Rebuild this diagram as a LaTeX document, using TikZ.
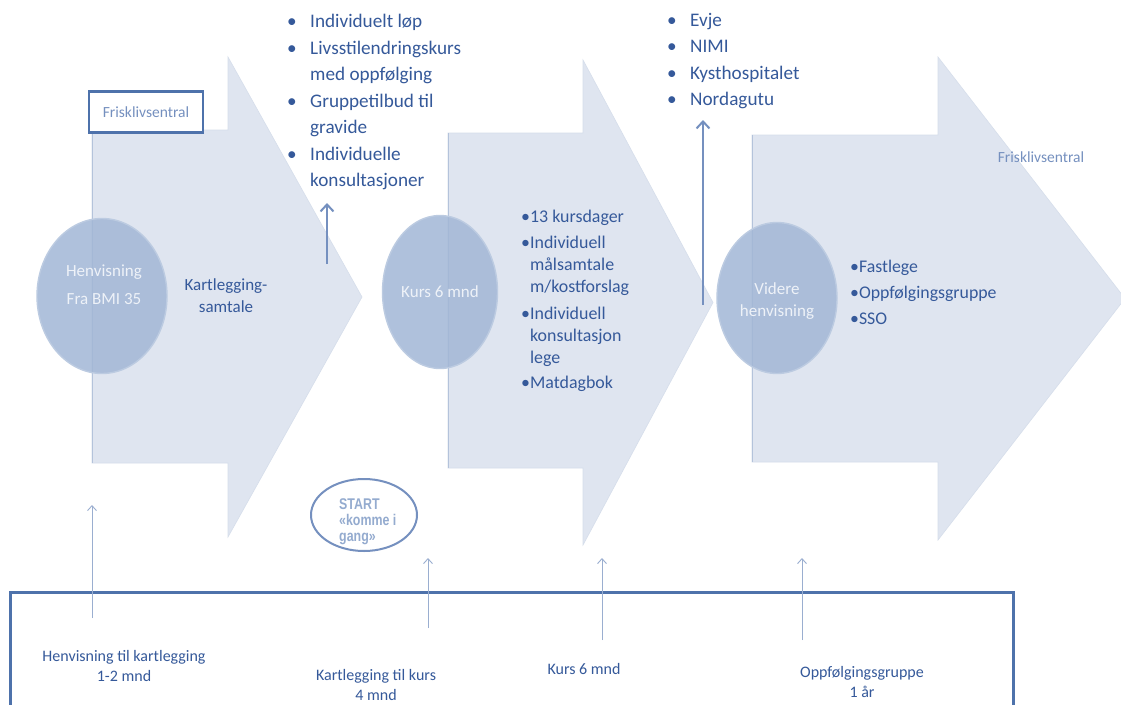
\documentclass[tikz,border=0pt]{standalone}
\usepackage{fontspec}
\setmainfont{Carlito}
\newfontfamily\startfont{Liberation Sans}[FakeStretch=0.8]
\usetikzlibrary{arrows.meta,shapes.geometric}

\definecolor{stagefill}{HTML}{DFE5F0}
\definecolor{stageline}{HTML}{B4C3DB}
\definecolor{ballfill}{HTML}{A2B7D6}
\definecolor{ballrim}{HTML}{BCCBE1}
\definecolor{balltxt}{HTML}{EEF2F8}
\definecolor{textblue}{HTML}{35599A}
\definecolor{paleblue}{HTML}{7590BF}
\definecolor{frameblue}{HTML}{4E72AB}
\definecolor{thinblue}{HTML}{9AAED0}
\definecolor{starttext}{HTML}{94ABCF}

\tikzset{
  stage/.style={fill=stagefill,draw=stageline!55,line width=0.6pt},
  stageedge/.style={draw=stageline,line width=1pt},
  ball/.style={ellipse,fill=ballfill,fill opacity=0.85,draw=ballrim,line width=1.4pt,inner sep=0pt},
  balltext/.style={text=balltxt,font=\fontsize{17}{28}\selectfont,align=center,inner sep=0pt},
  steptext/.style={text=textblue,align=left,anchor=north west,inner sep=0pt},
  uparrow/.style={draw=paleblue,line width=2.4pt,-{Straight Barb[length=7pt,width=13pt,line width=2pt]}},
  timearrow/.style={draw=thinblue,line width=0.9pt,-{Straight Barb[length=5pt,width=9pt,line width=0.9pt]}},
  timelabel/.style={text=textblue,font=\fontsize{16}{20}\selectfont,align=center,inner sep=0pt}
}

\begin{document}
\begin{tikzpicture}[x=1pt,y=-1pt]
\clip (0,0) rectangle (1121,704);
\fill[white] (0,0) rectangle (1121,704);

% #1 left, #2/#3 body top/bottom, #4 head x, #5/#6 head top/bottom, #7 tip x
\newcommand{\stagearrow}[7]{
  \pgfmathsetmacro{\tipy}{(#5+#6)/2}
  \filldraw[stage] (#1,#2) -- (#4,#2) -- (#4,#5) -- (#7,\tipy) -- (#4,#6) -- (#4,#3) -- (#1,#3) -- cycle;
  \draw[stageedge] (#1,#2) -- (#1,#3);
}

% the three stages
\stagearrow{92}{130}{463}{228}{57}{537}{362}
\stagearrow{448}{133}{468}{583}{60}{545}{713}
\stagearrow{752}{135}{462}{938}{57}{540}{1125}

% circles on the stages
\node[ball,minimum width=130pt,minimum height=155pt] (henv) at (102,296) {};
\node[ball,minimum width=115pt,minimum height=153pt] (kurs) at (440,292) {};
\node[ball,minimum width=120pt,minimum height=151pt] (videre) at (777,298) {};
\node[balltext] (henvtxt) at (104,285) {Henvisning\\Fra BMI 35};
\node[balltext] at (kurs) (kurstxt) {Kurs 6 mnd};
\node[balltext,font=\fontsize{17}{22}\selectfont] (videretxt) at (777,301) {Videre\\henvisning};

\node[text=textblue,font=\fontsize{17}{22}\selectfont,align=center,inner sep=0pt] (kartl) at (226,296) {Kartlegging-\\samtale};

% frisklivsentral labels
\node[draw=frameblue,fill=white,line width=2.5pt,minimum width=114pt,minimum height=41pt,
      text=paleblue,font=\fontsize{15.5}{17}\selectfont] (friskbox) at (146,112) {Frisklivsentral};
\node[text=paleblue,font=\fontsize{15.5}{17}\selectfont,inner sep=0pt] (frisk) at (1041,157) {Frisklivsentral};

% lists above the stages
\node[steptext,font=\fontsize{19.2}{26.5}\selectfont] (tilbud) at (287,14) {%
  \makebox[23pt][l]{•}Individuelt løp\\
  \makebox[23pt][l]{•}Livsstilendringskurs\\
  \hspace*{23pt}med oppfølging\\
  \makebox[23pt][l]{•}Gruppetilbud til\\
  \hspace*{23pt}gravide\\
  \makebox[23pt][l]{•}Individuelle\\
  \hspace*{23pt}konsultasjoner};
\node[steptext,font=\fontsize{19.2}{26.3}\selectfont] (steder) at (667,13) {%
  \makebox[23pt][l]{•}Evje\\
  \makebox[23pt][l]{•}NIMI\\
  \makebox[23pt][l]{•}Kysthospitalet\\
  \makebox[23pt][l]{•}Nordagutu};

% lists inside the stages
\node[steptext,font=\fontsize{17.9}{22}\selectfont] (innhold) at (521,210) {%
  •13 kursdager\\[4pt]
  •Individuell\\
  \phantom{•}målsamtale\\
  \phantom{•}m/kostforslag\\[5pt]
  •Individuell\\
  \phantom{•}konsultasjon\\
  \phantom{•}lege\\[3pt]
  •Matdagbok};
\node[steptext,font=\fontsize{17.8}{26}\selectfont] (videreliste) at (850,260) {%
  •Fastlege\\
  •Oppfølgingsgruppe\\
  •SSO};

% arrows up to the lists
\coordinate (up1) at (327,264);
\coordinate (up1tip) at (327,203);
\coordinate (up2) at (703,305);
\coordinate (up2tip) at (703,120);
\draw[uparrow] (up1) -- (up1tip);
\draw[uparrow] (up2) -- (up2tip);

% start
\node[ellipse,draw=paleblue,line width=2pt,minimum width=106pt,minimum height=72pt,inner sep=0pt] (start) at (364,515) {};
\node[text=starttext,font=\startfont\bfseries\fontsize{15.5}{16}\selectfont,align=left,inner sep=0pt,anchor=north west] (starttxt) at (339,498) {START\\«komme i\\gang»};

% time line
\draw[frameblue,line width=3pt] (10,592) rectangle (1013,720);
\node[timelabel] (tid1) at (124,666) {Henvisning til kartlegging\\1-2 mnd};
\node[timelabel] (tid2) at (376,685) {Kartlegging til kurs\\4 mnd};
\node[timelabel] (tid3) at (584,669) {Kurs 6 mnd};
\node[timelabel] (tid4) at (862,682) {Oppfølgingsgruppe\\1 år};
\foreach \name/\x/\ylo/\yhi in {a/92/618/505,b/428/628/558,c/602/640/558,d/802/640/558} {
  \coordinate (\name lo) at (\x,\ylo);
  \coordinate (\name hi) at (\x,\yhi);
  \draw[timearrow] (\name lo) -- (\name hi);
}
\end{tikzpicture}
\end{document}
